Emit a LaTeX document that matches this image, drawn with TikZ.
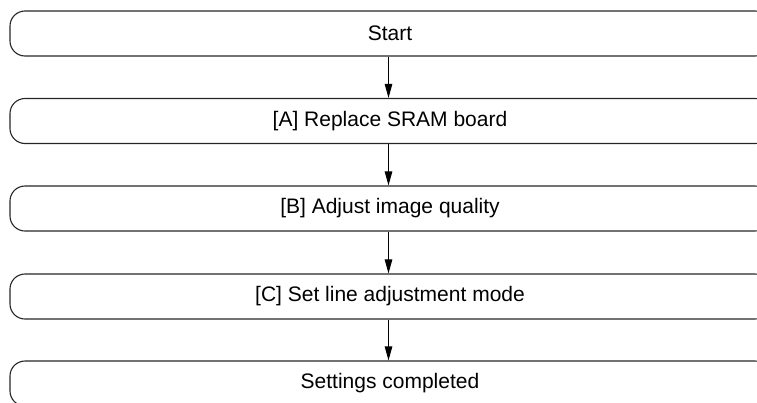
\documentclass[tikz,border=0pt]{standalone}
\usepackage{fontspec}
\setmainfont{Liberation Sans}
\usetikzlibrary{arrows.meta}
\begin{document}
\begin{tikzpicture}[x=1pt,y=1pt,
  stepbox/.style={draw=black!85, line width=1.1pt, rounded corners=15pt, minimum width=760pt, minimum height=45pt, inner sep=0pt, font=\fontsize{21}{24}\selectfont, anchor=center},
  flow/.style={draw=black, line width=1pt, -{Triangle[length=14pt,width=7.5pt]}}]
\useasboundingbox (0,0) rectangle (757,-402);
\clip (0,0) rectangle (757,-402);
\node[stepbox] (s) at (390,-33.5) {Start};
\node[stepbox] (a) at (390,-121) {[A] Replace SRAM board};
\node[stepbox] (b) at (390,-208.5) {[B] Adjust image quality};
\node[stepbox] (c) at (390,-296.5) {[C] Set line adjustment mode};
\node[stepbox] (d) at (390,-383.5) {Settings completed};
\draw[flow] ([xshift=-1.5pt]s.south) -- ([xshift=-1.5pt]a.north);
\draw[flow] ([xshift=-1.5pt]a.south) -- ([xshift=-1.5pt]b.north);
\draw[flow] ([xshift=-1.5pt]b.south) -- ([xshift=-1.5pt]c.north);
\draw[flow] ([xshift=-1.5pt]c.south) -- ([xshift=-1.5pt]d.north);
\end{tikzpicture}
\end{document}
